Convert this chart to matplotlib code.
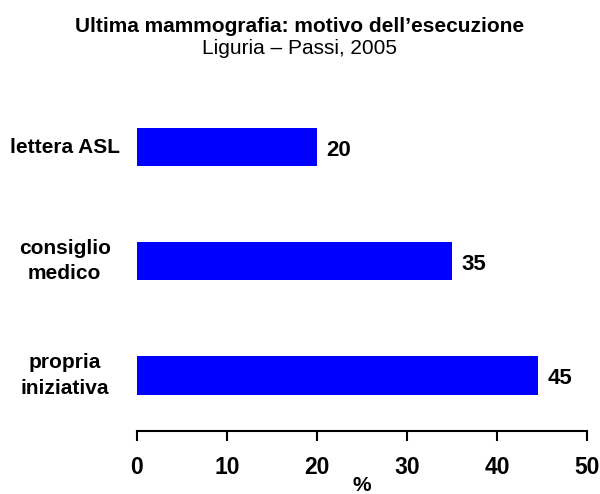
import matplotlib.pyplot as plt

plt.rcParams['font.family'] = ['Liberation Sans', 'DejaVu Sans']

categories = ['propria\niniziativa', 'consiglio\nmedico', 'lettera ASL']
values = [44.6, 35, 20]
labels = ['45', '35', '20']

fig = plt.figure(figsize=(6, 4.94), dpi=100)
ax = fig.add_axes([0.2283, 0.1275, 0.75, 0.6903])

pos = range(len(categories))
ax.barh(pos, values, height=0.34, color='#0000FF')
for i in pos:
    ax.text(values[i] + 1, i - 0.03, labels[i], va='center', ha='left',
            fontsize=16, fontweight='bold')

ax.set_xlim(0, 50)
ax.set_ylim(-0.49, 2.5)
ax.set_xticks([0, 10, 20, 30, 40, 50])
ax.set_yticks(list(pos))
ax.set_yticklabels(categories, fontsize=15, fontweight='bold', ha='center',
                   va='center', linespacing=1.45)
ax.tick_params(axis='y', length=0, pad=52)
ax.tick_params(axis='x', length=7, width=1.5, labelsize=16.5, pad=11)
for t in ax.get_xticklabels():
    t.set_fontweight('bold')
for s in ['top', 'right', 'left']:
    ax.spines[s].set_visible(False)
ax.spines['bottom'].set_linewidth(1.5)
ax.set_xlabel('%', fontsize=15, fontweight='bold', labelpad=-2.5)

fig.text(0.5, 0.947, 'Ultima mammografia: motivo dell\u2019esecuzione',
         ha='center', va='center', fontsize=15, fontweight='bold')
fig.text(0.5, 0.901, 'Liguria \u2013 Passi, 2005', ha='center', va='center',
         fontsize=15)

fig.savefig('out.png', dpi=100)
